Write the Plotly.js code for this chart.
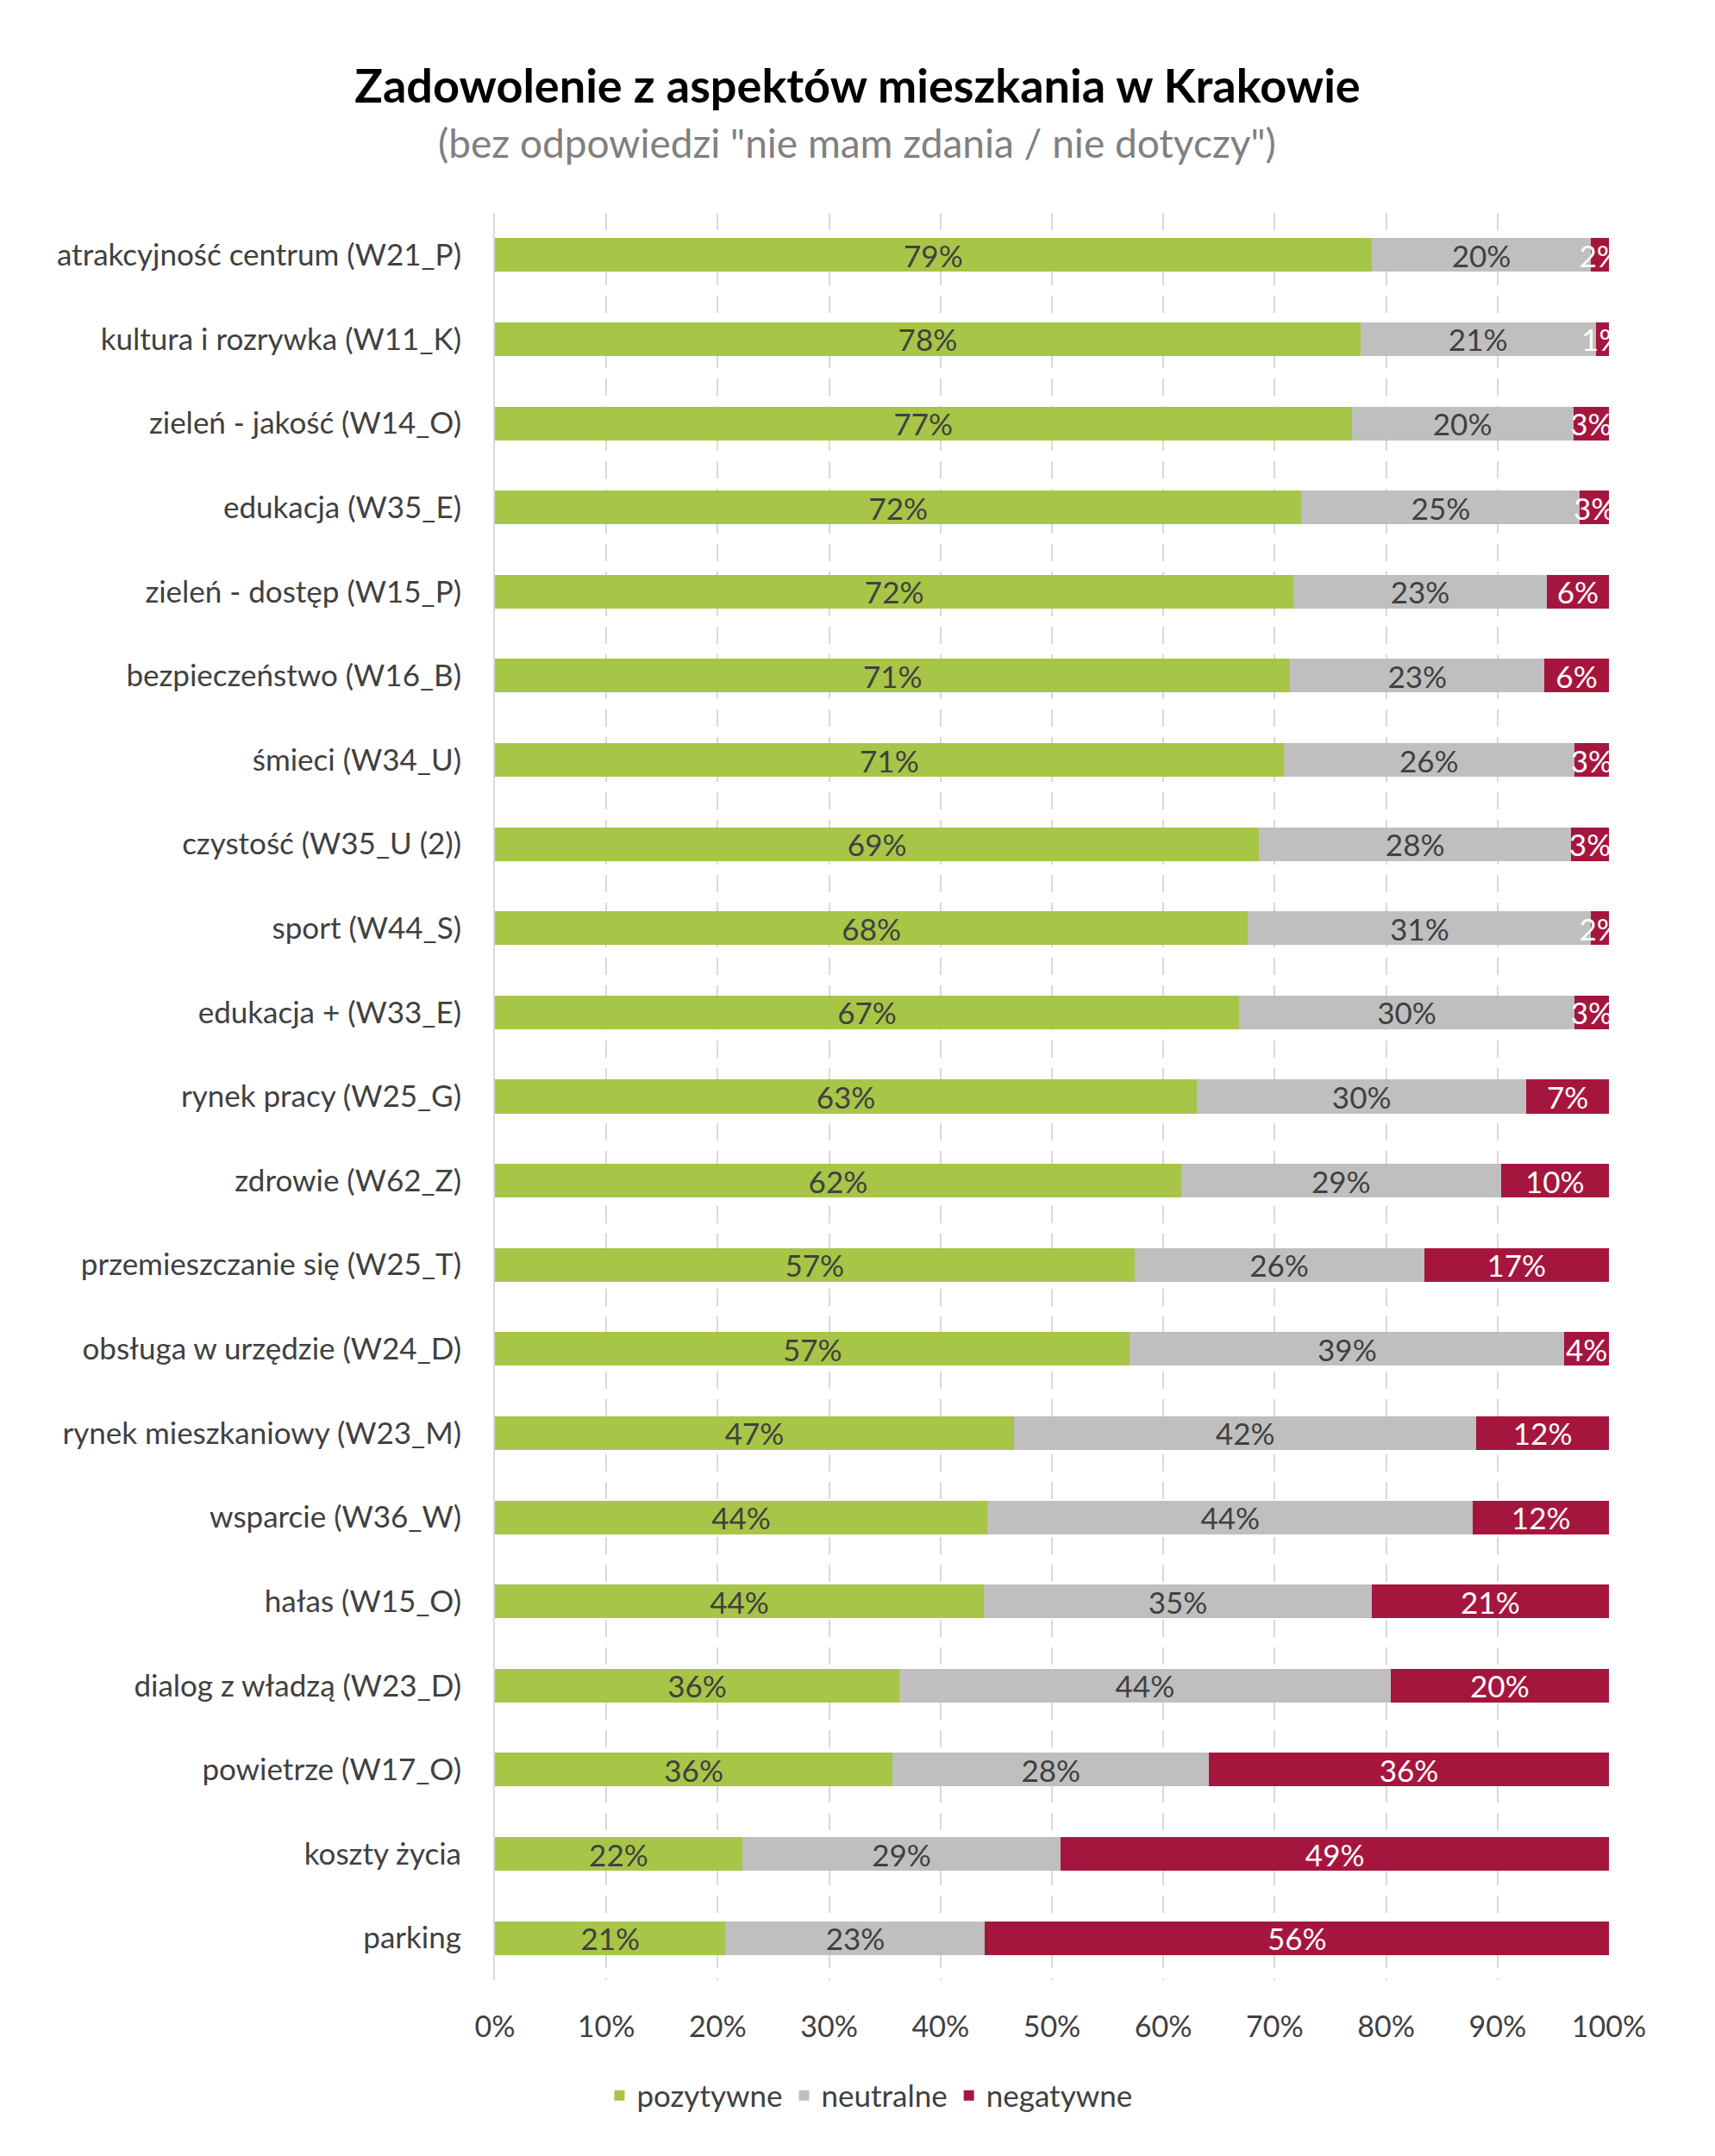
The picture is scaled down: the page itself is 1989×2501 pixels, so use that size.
<!DOCTYPE html>
<html>
<head>
<meta charset="utf-8">
<script src="https://cdn.plot.ly/plotly-3.0.1.min.js"></script>
<style>html,body{margin:0;padding:0;background:#fff;}</style>
</head>
<body>
<div id="chart" style="width:1989px;height:2501px;"></div>
<script>
const categories = [
  "atrakcyjność centrum (W21_P)",
  "kultura i rozrywka (W11_K)",
  "zieleń - jakość (W14_O)",
  "edukacja (W35_E)",
  "zieleń - dostęp (W15_P)",
  "bezpieczeństwo (W16_B)",
  "śmieci (W34_U)",
  "czystość (W35_U (2))",
  "sport (W44_S)",
  "edukacja + (W33_E)",
  "rynek pracy (W25_G)",
  "zdrowie (W62_Z)",
  "przemieszczanie się (W25_T)",
  "obsługa w urzędzie (W24_D)",
  "rynek mieszkaniowy (W23_M)",
  "wsparcie (W36_W)",
  "hałas (W15_O)",
  "dialog z władzą (W23_D)",
  "powietrze (W17_O)",
  "koszty życia",
  "parking"
];
const pozytywne = [78.7, 77.7, 76.9, 72.4, 71.7, 71.4, 70.8, 68.6, 67.6, 66.8, 63.0, 61.6, 57.4, 57.0, 46.6, 44.2, 43.9, 36.3, 35.7, 22.2, 20.7];
const neutralne = [19.7, 21.1, 19.9, 25.0, 22.7, 22.8, 26.1, 28.0, 30.8, 30.1, 29.6, 28.7, 26.0, 39.0, 41.5, 43.6, 34.8, 44.1, 28.4, 28.6, 23.3];
const negatywne = [1.6, 1.2, 3.2, 2.6, 5.6, 5.8, 3.1, 3.4, 1.6, 3.1, 7.4, 9.7, 16.6, 4.0, 11.9, 12.2, 21.3, 19.6, 35.9, 49.2, 56.0];
const seriesNames = ["pozytywne", "neutralne", "negatywne"];
const xTickVals = [0, 10, 20, 30, 40, 50, 60, 70, 80, 90, 100];
const titleText = "Zadowolenie z aspektów mieszkania w Krakowie";
const subtitleText = "(bez odpowiedzi \"nie mam zdania / nie dotyczy\")";

const FONT = "Lato, 'Open Sans', sans-serif";
const colors = ["#A7C547", "#BFBFBF", "#A5163E"];
const textColors = ["#404040", "#404040", "#FFFFFF"];
const seriesValues = [pozytywne, neutralne, negatywne];

const traces = seriesValues.map((vals, i) => ({
  type: "bar",
  orientation: "h",
  name: seriesNames[i],
  y: categories,
  x: vals,
  marker: {color: colors[i], line: {width: 0}},
  texttemplate: "%{x:.0f}%",
  textposition: "inside",
  insidetextanchor: "middle",
  constraintext: "none",
  textangle: 0,
  textfont: {family: FONT, size: 35, color: textColors[i]},
  cliponaxis: true,
  hoverinfo: "skip"
}));

const layout = {
  width: 1989,
  height: 2501,
  paper_bgcolor: "#FFFFFF",
  plot_bgcolor: "#FFFFFF",
  barmode: "stack",
  bargap: 0.6,
  margin: {l: 574, r: 123, t: 247, b: 204},
  font: {family: FONT, color: "#404040"},
  title: {
    text: "<b>" + titleText + "</b>",
    font: {family: FONT, size: 54, color: "#000000"},
    x: 0.5, xref: "container", xanchor: "center",
    y: 1 - 100/2501, yref: "container", yanchor: "middle"
  },
  annotations: [{
    text: subtitleText,
    xref: "paper", yref: "paper",
    x: (994 - 574) / 1292, xanchor: "center",
    y: 1 + (247 - 166) / 2050, yanchor: "middle",
    showarrow: false,
    font: {family: FONT, size: 46, color: "#808080"}
  }],
  xaxis: {
    range: [0, 100],
    tickvals: xTickVals,
    ticktext: xTickVals.map(v => v + "%"),
    showgrid: true,
    gridcolor: "#D9D9D9",
    gridwidth: 2,
    griddash: "20px,12px",
    zeroline: false,
    showline: false,
    ticks: "outside",
    ticklen: 24,
    tickcolor: "rgba(0,0,0,0)",
    tickfont: {family: FONT, size: 34, color: "#404040"},
    fixedrange: true
  },
  yaxis: {
    autorange: "reversed",
    showgrid: false,
    zeroline: false,
    showline: true,
    linecolor: "#D9D9D9",
    linewidth: 2,
    ticks: "outside",
    ticklen: 30,
    tickcolor: "rgba(0,0,0,0)",
    tickfont: {family: FONT, size: 35, color: "#404040"},
    fixedrange: true
  },
  showlegend: true,
  legend: {
    orientation: "h",
    xref: "container", x: 0.507, xanchor: "center",
    yref: "container", y: 1 - 2431/2501, yanchor: "middle",
    font: {family: FONT, size: 35, color: "#404040"},
    itemwidth: 30,
    traceorder: "normal",
    bgcolor: "rgba(0,0,0,0)"
  }
};

Plotly.newPlot("chart", traces, layout, {displayModeBar: false, staticPlot: true});
</script>
</body>
</html>
